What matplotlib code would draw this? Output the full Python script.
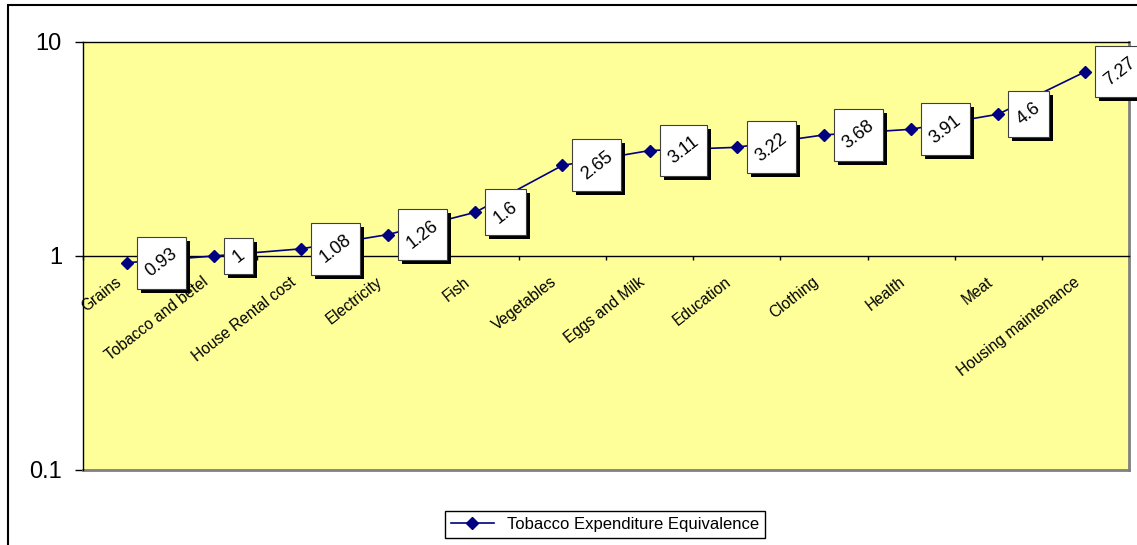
import matplotlib
matplotlib.use("Agg")
import matplotlib.pyplot as plt
from matplotlib.patches import Rectangle
from matplotlib.transforms import IdentityTransform
from matplotlib.ticker import NullLocator
import numpy as np

categories = ["Grains", "Tobacco and betel", "House Rental cost", "Electricity",
              "Fish", "Vegetables", "Eggs and Milk", "Education", "Clothing",
              "Health", "Meat", "Housing maintenance"]
values = [0.93, 1, 1.08, 1.26, 1.6, 2.65, 3.11, 3.22, 3.68, 3.91, 4.6, 7.27]
value_labels = ["0.93", "1", "1.08", "1.26", "1.6", "2.65", "3.11", "3.22",
                "3.68", "3.91", "4.6", "7.27"]
y_ticks = [0.1, 1, 10]
y_tick_labels = ["0.1", "1", "10"]
series_name = "Tobacco Expenditure Equivalence"

plt.rcParams["font.family"] = ["Liberation Sans", "DejaVu Sans"]

W, H = 1137, 545
fig = plt.figure(figsize=(W / 100, H / 100), dpi=100)
fig.patch.set_facecolor("white")

# plot area in pixel terms
left, right, top, bottom = 83, 1129, 42, 470
ax = fig.add_axes([left / W, (H - bottom) / H, (right - left) / W, (bottom - top) / H])
ax.set_facecolor("#FFFF99")

x = np.arange(len(categories))
ax.set_yscale("log")
ax.set_ylim(0.1, 10)
ax.set_xlim(-0.5, len(categories) - 0.5)

ax.plot(x, values, color="#000080", lw=1.2, marker="D", ms=6.5,
        label=series_name, zorder=3, clip_on=False)

# category axis crosses at 1
ax.spines["bottom"].set_position(("data", 1))
ax.spines["bottom"].set_color("black")
ax.spines["bottom"].set_linewidth(1.0)
ax.spines["left"].set_color("black")
ax.spines["left"].set_linewidth(1.0)
ax.spines["top"].set_color("black")
ax.spines["top"].set_linewidth(1.0)
ax.spines["right"].set_color("#808080")
ax.spines["right"].set_linewidth(2.0)
ax.axhline(0.1, color="#808080", lw=2.0, clip_on=False, zorder=2)

ax.set_xticks(np.arange(-0.5, len(categories), 1.0))
ax.tick_params(axis="x", direction="out", length=3, width=1, color="black",
               labelbottom=False)
ax.set_yticks(y_ticks)
ax.set_yticklabels(y_tick_labels)
ax.yaxis.set_minor_locator(NullLocator())
ax.tick_params(axis="y", direction="out", length=5.8, width=1, pad=9.4,
               labelsize=17)

# rotated category names below the axis line
for i, name in enumerate(categories):
    ax.annotate(name, xy=(i, 1), xytext=(-8.5, -13), textcoords="offset points",
                ha="right", va="top", rotation=38, rotation_mode="anchor",
                fontsize=11.2, color="black", annotation_clip=False)

# value labels, rotated text inside upright boxes with a drop shadow
padx, pady = 5.5, 8.5
texts = []
for i, (v, lbl) in enumerate(zip(values, value_labels)):
    t = ax.annotate(lbl, xy=(i, v), xytext=((10 + padx) * 0.72, 0),
                    textcoords="offset points", ha="left", va="center",
                    rotation=38, fontsize=13, zorder=7,
                    annotation_clip=False)
    texts.append(t)

leg = fig.legend(loc="center", bbox_to_anchor=(605 / W, (H - 524.5) / H),
                 frameon=True, fancybox=False, edgecolor="black", fontsize=12,
                 handlelength=2.6, borderpad=0.35, framealpha=1)
leg.get_frame().set_linewidth(1.0)

# outer chart frame
fig.add_artist(Rectangle((8 / W, -0.1), 1.2, (H - 5) / H + 0.1,
                         transform=fig.transFigure, fill=False,
                         ec="black", lw=1.5))

fig.canvas.draw()
renderer = fig.canvas.get_renderer()
shadow = 4
for t in texts:
    bb = t.get_window_extent(renderer)
    x0, y0 = bb.x0 - padx, bb.y0 - pady
    w, h = bb.width + 2 * padx, bb.height + 2 * pady
    ax.add_artist(Rectangle((x0 + shadow, y0 - shadow), w, h,
                            transform=IdentityTransform(), fc="black",
                            ec="none", zorder=5, clip_on=False))
    ax.add_artist(Rectangle((x0, y0), w, h, transform=IdentityTransform(),
                            fc="white", ec="#404040", lw=0.8, zorder=6,
                            clip_on=False))

fig.savefig("out.png", dpi=100)
